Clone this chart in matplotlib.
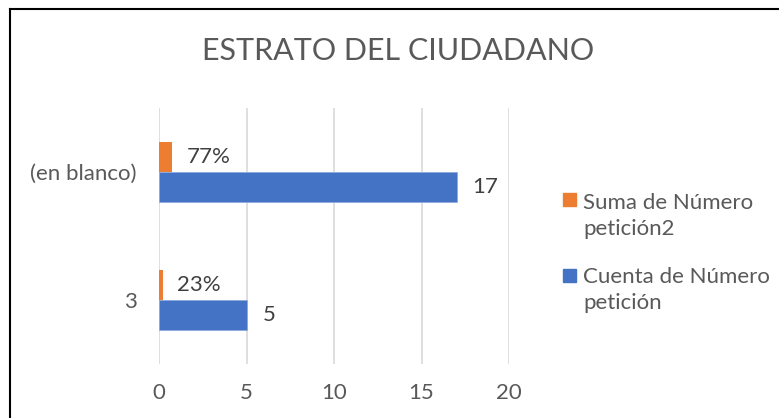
import numpy as np
import matplotlib.pyplot as plt
from matplotlib.lines import Line2D
from matplotlib.patches import Rectangle

plt.rcParams['font.family'] = ['Lato', 'DejaVu Sans']

# data
categories = ['3', '(en blanco)']
cuenta = [5, 17]            # Cuenta de Número petición
suma = [0.23, 0.77]         # Suma de Número petición2 (share)
x_ticks = [0, 5, 10, 15, 20]

blue = '#4472C4'
orange = '#ED7D31'
grey = '#595959'

W, H = 779, 418
fig = plt.figure(figsize=(W / 100, H / 100), dpi=100)
ax = fig.add_axes([159 / W, 1 - 364 / H, 350 / W, 256 / H])

y = np.arange(len(categories))
h = 30 / 128
ax.barh(y - h / 2, cuenta, height=h, color=blue, edgecolor='#8FAADC', linewidth=0.6, zorder=3)
ax.barh(y + h / 2, suma, height=h, color=orange, zorder=3)

for yi, v in zip(y, cuenta):
    ax.annotate(str(v), (v, yi - h / 2), xytext=(16, 0), textcoords='offset pixels',
                va='center', ha='left', fontsize=16, color='#404040')
for yi, v in zip(y, suma):
    ax.annotate(f'{v:.0%}', (v, yi + h / 2), xytext=(14, 0), textcoords='offset pixels',
                va='center', ha='left', fontsize=16, color='#404040')

ax.set_xlim(0, 20)
ax.set_ylim(-0.5, 1.5)
ax.set_xticks(x_ticks)
ax.set_yticks(y)
ax.set_yticklabels(categories)
ax.grid(axis='x', color='#D9D9D9', linewidth=1.2, zorder=0)
ax.tick_params(length=0, labelsize=16, labelcolor=grey)
ax.tick_params(axis='x', pad=14)
ax.tick_params(axis='y', pad=16)
for s in ax.spines.values():
    s.set_visible(False)

fig.text(398 / W, 1 - 51 / H, 'ESTRATO DEL CIUDADANO', ha='center', va='center',
         fontsize=22, color=grey)

# legend drawn by hand (Excel style, square aligned to first line)
legend_items = [('Suma de Número\npetición2', orange, 193, 216),
                ('Cuenta de Número\npetición', blue, 269, 290)]
for label, col, top, mid in legend_items:
    fig.patches.append(Rectangle((563 / W, 1 - (top + 13) / H), 13 / W, 13 / H,
                                 transform=fig.transFigure, color=col))
    fig.text(583 / W, 1 - mid / H, label, ha='left', va='center', fontsize=16,
             color=grey, linespacing=1.4)

# outer frame (top and left edges visible)
fig.add_artist(Line2D([10 / W, 1], [1 - 8.5 / H] * 2, color='black', linewidth=1.5))
fig.add_artist(Line2D([10 / W] * 2, [0, 1 - 8.5 / H], color='black', linewidth=1.5))

fig.savefig('out.png', dpi=100)
